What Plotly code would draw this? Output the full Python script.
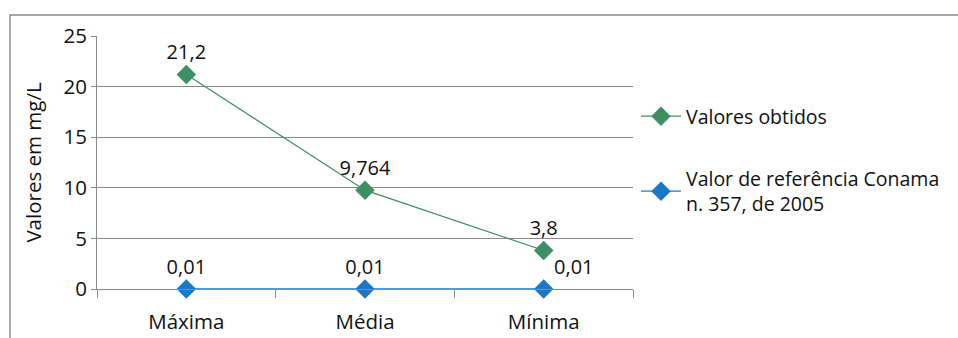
import plotly.graph_objects as go

categories = ["Máxima", "Média", "Mínima"]
valores_obtidos = [21.2, 9.764, 3.8]
valor_referencia = [0.01, 0.01, 0.01]
y_ticks = [0, 5, 10, 15, 20, 25]

def fmt(v):
    return str(v).replace(".", ",")

GREEN = "#3F8F65"
BLUE = "#1B78C6"
FONT = "Open Sans"
FS = 20.5

fig = go.Figure()
fig.add_trace(go.Scatter(
    x=categories, y=valores_obtidos, mode="lines+markers+text",
    name="Valores obtidos", legendgroup="a",
    line=dict(color=GREEN, width=1.2),
    marker=dict(symbol="diamond", size=15, color=GREEN),
    text=[fmt(v) for v in valores_obtidos], textposition="top center",
    textfont=dict(size=20, color="#111", family=FONT),
    cliponaxis=False,
))
fig.add_trace(go.Scatter(
    x=categories, y=valor_referencia, mode="lines+markers+text",
    name="Valor de referência Conama<br>n. 357, de 2005", legendgroup="b",
    line=dict(color=BLUE, width=1.2),
    marker=dict(symbol="diamond", size=15, color=BLUE),
    text=[fmt(v) for v in valor_referencia],
    textposition=["top center", "top center", "top right"],
    textfont=dict(size=20, color="#111", family=FONT),
    cliponaxis=False,
))

L, R, T, B = 97, 958 - 633, 36, 338 - 289
pw, ph = 958 - L - R, 338 - T - B

fig.update_layout(
    width=958, height=338,
    margin=dict(l=L, r=R, t=T, b=B, autoexpand=False),
    paper_bgcolor="white", plot_bgcolor="white",
    font=dict(family=FONT, size=FS, color="#111"),
    showlegend=True,
    legend=dict(
        xref="container", yref="container",
        x=636 / 958, y=1 - 97 / 338, xanchor="left", yanchor="top",
        font=dict(size=19.5, family=FONT, color="#111"),
        tracegroupgap=34, itemwidth=40, bgcolor="rgba(0,0,0,0)",
    ),
    xaxis=dict(
        type="category", range=[-0.5, 2.5],
        showgrid=False, showline=True, linecolor="#8a8a8a", linewidth=1,
        ticks="outside", tickson="boundaries", ticklen=8, tickcolor="#8a8a8a",
        ticklabelstandoff=14,
        tickfont=dict(size=FS, family=FONT, color="#111"),
    ),
    yaxis=dict(
        range=[0, 25], tickvals=y_ticks, showgrid=True, gridcolor="#8a8a8a", gridwidth=1,
        showline=True, linecolor="#8a8a8a", linewidth=1,
        ticks="outside", ticklen=5, tickcolor="#8a8a8a",
        tickfont=dict(size=FS, family=FONT, color="#111"),
        title=dict(text="Valores em mg/L", font=dict(size=FS, family=FONT, color="#111"), standoff=16),
        zeroline=False,
    ),
    shapes=[dict(
        type="rect", xref="paper", yref="paper",
        x0=(10 - L) / pw, x1=(962 - L) / pw,
        y0=(289 - 345) / ph, y1=(289 - 15) / ph,
        line=dict(color="#8a8a8a", width=1.5), fillcolor="rgba(0,0,0,0)", layer="below",
    )],
)

fig.write_html("out.html")
